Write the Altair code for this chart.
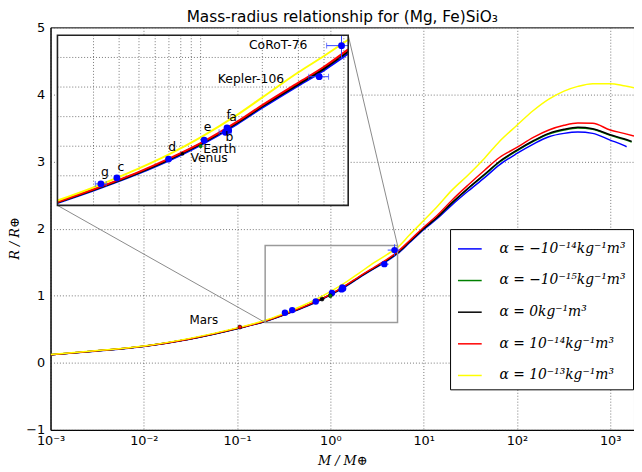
import altair as alt
import numpy as np
import pandas as pd

# ---------------- data ----------------
SERIES = ["α = −10⁻¹⁴kg⁻¹m³", "α = −10⁻¹⁵kg⁻¹m³", "α = 0kg⁻¹m³",
          "α = 10⁻¹⁴kg⁻¹m³", "α = 10⁻¹³kg⁻¹m³"]
COLORS = ["#0000ff", "#008000", "#000000", "#ff0000", "#ffff00"]

MASS = [0.001, 0.003, 0.01, 0.03, 0.1, 0.2, 0.3, 0.5, 0.7, 1.0, 1.5, 2.0, 3.0, 4.0, 5.25,
        7.0, 10, 14, 20, 30, 45, 65, 100, 150, 220, 320, 450, 650, 1000, 1400]

R_BLUE = [0.118, 0.173, 0.243, 0.348, 0.507, 0.616, 0.700, 0.816, 0.903, 1.008,
          1.148, 1.260, 1.410, 1.513, 1.625, 1.785, 1.985, 2.15, 2.35, 2.56,
          2.76, 2.95, 3.12, 3.26, 3.37, 3.42, 3.44, 3.42, 3.32, 3.24]
R_GREEN = [0.120, 0.175, 0.245, 0.350, 0.510, 0.620, 0.705, 0.822, 0.910, 1.015,
           1.157, 1.270, 1.420, 1.525, 1.640, 1.800, 2.000, 2.17, 2.38, 2.60,
           2.80, 2.99, 3.16, 3.30, 3.41, 3.47, 3.50, 3.48, 3.39, 3.33]
R_BLACK = [0.120, 0.175, 0.245, 0.350, 0.510, 0.620, 0.705, 0.822, 0.910, 1.015,
           1.157, 1.270, 1.420, 1.525, 1.640, 1.800, 2.000, 2.17, 2.38, 2.60,
           2.81, 3.00, 3.17, 3.31, 3.42, 3.48, 3.51, 3.49, 3.40, 3.34]
R_RED = [0.121, 0.176, 0.247, 0.352, 0.513, 0.623, 0.709, 0.827, 0.916, 1.021,
         1.164, 1.278, 1.430, 1.537, 1.655, 1.815, 2.020, 2.20, 2.42, 2.65,
         2.87, 3.06, 3.21, 3.36, 3.47, 3.54, 3.575, 3.57, 3.47, 3.42]
R_YELLOW = [0.125, 0.180, 0.250, 0.360, 0.520, 0.633, 0.722, 0.850, 0.945, 1.060,
            1.210, 1.330, 1.500, 1.610, 1.720, 1.900, 2.120, 2.33, 2.57, 2.80,
            3.05, 3.30, 3.54, 3.76, 3.93, 4.05, 4.12, 4.16, 4.16, 4.13]
END_MASS = [1500, 1700, 1700, 1800, 1800]
END_R = [3.22, 3.29, 3.30, 3.38, 4.10]

PL_NAME = ["g", "c", "d", "e", "b", "f", "a", "Kepler-106", "CoRoT-76"]
PL_M = [0.326, 0.39, 0.697, 1.04, 1.32, 1.345, 1.37, 3.79, 4.87]
PL_R = [0.745, 0.785, 0.913, 1.04, 1.094, 1.123, 1.107, 1.47, 1.68]
PL_MERR = [0.02, 0.0, 0.0, 0.0, 0.09, 0.0, 0.0, 0.42, 0.75]
PL_RERR = [0.0, 0.0, 0.0, 0.0, 0.0, 0.0, 0.0, 0.0, 0.085]

SS_NAME = ["Venus", "Earth", "Mars"]
SS_M = [0.815, 1.0, 0.107]
SS_R = [0.949, 1.0, 0.532]
SS_COLOR = ["#000000", "#008000", "#ff0000"]

LBL_TEXT = ["g", "c", "d", "Venus", "Earth", "e", "f", "a", "b", "Kepler-106", "CoRoT-76"]
LBL_M = [0.341, 0.408, 0.727, 1.10, 1.24, 1.08, 1.37, 1.44, 1.38, 1.76, 2.39]
LBL_R = [0.825, 0.859, 0.993, 0.919, 0.982, 1.128, 1.21, 1.197, 1.065, 1.456, 1.683]
MARS_LBL_M, MARS_LBL_R = [0.044], [0.637]

X_TICKS = [1e-3, 1e-2, 1e-1, 1, 10, 100, 1000]
Y_TICKS = [-1, 0, 1, 2, 3, 4, 5]
INSET_GRID_X = [0.3, 0.4, 0.5, 0.6, 0.7, 0.8, 0.9, 1, 2, 3, 4, 5]
INSET_GRID_Y = [0.8, 1.0, 1.2, 1.4, 1.6]
ZOOM_X = [0.2, 5.25]
ZOOM_Y = [0.6, 1.75]

# ---------------- layout ----------------
W, H = 590, 407
XMIN, XMAX = 1e-3, 1800
YMIN, YMAX = -1, 5
IN_L, IN_T, IN_R, IN_B = 7, 8, 301, 180   # inset frame in plot pixels


def px_to_x(p):
    return 10 ** (np.log10(XMIN) + p / W * (np.log10(XMAX) - np.log10(XMIN)))


def px_to_y(p):
    return YMAX - p / H * (YMAX - YMIN)


# ---------------- tables ----------------
rows = []
for s, rs, em, er in zip(SERIES, [R_BLUE, R_GREEN, R_BLACK, R_RED, R_YELLOW], END_MASS, END_R):
    for m, r in zip(MASS, rs):
        rows.append({"series": s, "M": m, "R": r})
    rows.append({"series": s, "M": em, "R": er})
curves = pd.DataFrame(rows)

planets = pd.DataFrame({"name": PL_NAME, "M": PL_M, "R": PL_R, "Me": PL_MERR, "Re": PL_RERR})
xerr = planets[planets.Me > 0].copy()
xerr["lo"] = xerr.M - xerr.Me
xerr["hi"] = xerr.M + xerr.Me
yerr = planets[planets.Re > 0].copy()
yerr["lo"] = yerr.R - yerr.Re
yerr["hi"] = yerr.R + yerr.Re

solar = pd.DataFrame({"name": SS_NAME, "M": SS_M, "R": SS_R, "c": SS_COLOR})
labels = pd.DataFrame({"t": LBL_TEXT, "M": LBL_M, "R": LBL_R})
mars_lbl = pd.DataFrame({"t": ["Mars"], "M": MARS_LBL_M, "R": MARS_LBL_R})
zoom_box = pd.DataFrame({"x0": [ZOOM_X[0]], "x1": [ZOOM_X[1]], "y0": [ZOOM_Y[0]], "y1": [ZOOM_Y[1]]})
connectors = pd.DataFrame({
    "x0": [px_to_x(IN_L), px_to_x(IN_R)], "y0": [px_to_y(IN_B), px_to_y(IN_T)],
    "x1": [ZOOM_X[0], ZOOM_X[1]], "y1": [ZOOM_Y[0], ZOOM_Y[1]]})
gx = pd.DataFrame({"M": INSET_GRID_X, "y0": ZOOM_Y[0], "y1": ZOOM_Y[1]})
gy = pd.DataFrame({"R": INSET_GRID_Y, "x0": ZOOM_X[0], "x1": ZOOM_X[1]})

# ---------------- main scales / axes ----------------
xs = alt.Scale(type="log", domain=[XMIN, XMAX], nice=False)
ys = alt.Scale(domain=[YMIN, YMAX], nice=False, zero=False)
SUP = "['10⁻³','10⁻²','10⁻¹','10⁰','10¹','10²','10³'][round(log(datum.value)/LN10)+3]"
XAXIS = alt.Axis(title="M / M⊕", titleFont="DejaVu Serif", titleFontStyle="italic",
                 titleFontWeight="normal", titleFontSize=13, titleColor="black",
                 titleY=31, titleBaseline="middle",
                 values=X_TICKS, labelExpr=SUP, labelFont="DejaVu Sans", labelFontSize=13,
                 labelColor="black", labelPadding=5, ticks=False, labelFlush=False,
                 labelOverlap=False, domainColor="black", grid=True, gridColor="#555",
                 gridDash=[1, 2], gridWidth=0.8)
YAXIS = alt.Axis(title="R / R⊕", titleFont="DejaVu Serif", titleFontStyle="italic",
                 titleFontWeight="normal", titleFontSize=13, titleColor="black",
                 titleX=-36, titleY=213, titleAngle=270, titleBaseline="middle",
                 values=Y_TICKS, labelExpr="replace(datum.label, '-', '−')",
                 labelFont="DejaVu Sans", labelFontSize=13, labelColor="black",
                 labelPadding=6, ticks=False, labelFlush=False, domainColor="black",
                 grid=True, gridColor="#555", gridDash=[1, 2], gridWidth=0.8)


def mx(f):
    return alt.X(f, type="quantitative", scale=xs, axis=XAXIS)


def my(f):
    return alt.Y(f, type="quantitative", scale=ys, axis=YAXIS)


LEGEND = alt.Legend(title=None, orient="none", legendX=404, legendY=204,
                    symbolType="stroke", symbolSize=576, symbolStrokeWidth=1.5,
                    labelFont="DejaVu Serif", labelFontStyle="italic", labelFontSize=14,
                    labelColor="black", labelOffset=17, labelLimit=400,
                    padding=7, rowPadding=12, strokeColor="black", fillColor="white",
                    cornerRadius=0)

main_curves = alt.Chart(curves).mark_line(strokeWidth=1.5, interpolate="monotone", clip=True).encode(
    x=mx("M"), y=my("R"),
    color=alt.Color("series:N", scale=alt.Scale(domain=SERIES, range=COLORS), sort=SERIES, legend=LEGEND),
    detail="series:N")

main_box = alt.Chart(zoom_box).mark_rect(filled=False, stroke="#9a9a9a", strokeWidth=1.5).encode(
    x=mx("x0"), x2="x1", y=my("y0"), y2="y1")
main_conn = alt.Chart(connectors).mark_rule(color="#8a8a8a", strokeWidth=1).encode(
    x=mx("x0"), x2="x1", y=my("y0"), y2="y1")
main_xerr = alt.Chart(xerr).mark_rule(color="#3344ff", strokeWidth=1).encode(
    x=mx("lo"), x2="hi", y=my("R"))
main_yerr = alt.Chart(yerr).mark_rule(color="#3344ff", strokeWidth=1).encode(
    x=mx("M"), y=my("lo"), y2="hi")
main_pts = alt.Chart(planets).mark_circle(color="#0000ff", size=42, opacity=1).encode(
    x=mx("M"), y=my("R"))
main_ss = alt.Chart(solar).mark_point(filled=True, size=16, opacity=1, stroke="black", strokeWidth=0.6).encode(
    x=mx("M"), y=my("R"), fill=alt.Fill("c:N", scale=None))
main_txt = alt.Chart(mars_lbl).mark_text(font="DejaVu Sans", fontSize=12, color="black").encode(
    x=mx("M"), y=my("R"), text="t:N")

main = alt.layer(main_curves, main_box, main_conn, main_xerr, main_yerr, main_pts, main_ss, main_txt)

# ---------------- inset ----------------
xi = alt.Scale(type="log", domain=ZOOM_X, range=[IN_L, IN_R], nice=False)
yi = alt.Scale(domain=ZOOM_Y, range=[IN_B, IN_T], nice=False, zero=False)


def ix(f):
    return alt.X(f, type="quantitative", scale=xi, axis=None)


def iy(f):
    return alt.Y(f, type="quantitative", scale=yi, axis=None)


in_bg = alt.Chart(zoom_box).mark_rect(fill="white", stroke=None).encode(
    x=ix("x0"), x2="x1", y=iy("y0"), y2="y1")
in_gx = alt.Chart(gx).mark_rule(color="#555", strokeDash=[1, 2], strokeWidth=0.8).encode(
    x=ix("M"), y=iy("y0"), y2="y1")
in_gy = alt.Chart(gy).mark_rule(color="#555", strokeDash=[1, 2], strokeWidth=0.8).encode(
    x=ix("x0"), x2="x1", y=iy("R"))
in_curves = alt.Chart(curves).transform_filter(
    (alt.datum.M >= ZOOM_X[0]) & (alt.datum.M <= ZOOM_X[1])
).mark_line(strokeWidth=2, interpolate="monotone").encode(
    x=ix("M"), y=iy("R"),
    color=alt.Color("series:N", scale=alt.Scale(domain=SERIES, range=COLORS), legend=None),
    detail="series:N")
in_xerr = alt.Chart(xerr).transform_calculate(
    hic=f"min(datum.hi, {ZOOM_X[1]})").mark_rule(color="#3344ff", strokeWidth=1).encode(
    x=ix("lo"), x2="hic:Q", y=iy("R"))
in_xcap = alt.Chart(xerr).transform_fold(["lo", "hi"], as_=["k", "v"]).transform_filter(
    alt.datum.v <= ZOOM_X[1]).mark_tick(color="#3344ff", orient="vertical", size=6, thickness=1).encode(
    x=ix("v"), y=iy("R"))
in_yerr = alt.Chart(yerr).transform_calculate(
    hic=f"min(datum.hi, {ZOOM_Y[1]})").mark_rule(color="#3344ff", strokeWidth=1).encode(
    x=ix("M"), y=iy("lo"), y2="hic:Q")
in_ycap = alt.Chart(yerr).transform_fold(["lo", "hi"], as_=["k", "v"]).transform_filter(
    alt.datum.v <= ZOOM_Y[1]).mark_tick(color="#3344ff", orient="horizontal", size=6, thickness=1).encode(
    x=ix("M"), y=iy("v"))
in_pts = alt.Chart(planets).mark_circle(color="#0000ff", size=48, opacity=1).encode(
    x=ix("M"), y=iy("R"))
in_ss = alt.Chart(solar).transform_filter(alt.datum.M >= ZOOM_X[0]).mark_circle(size=14, opacity=1).encode(
    x=ix("M"), y=iy("R"), color=alt.Color("c:N", scale=None))
in_txt = alt.Chart(labels).mark_text(font="DejaVu Sans", fontSize=12.5, color="black").encode(
    x=ix("M"), y=iy("R"), text="t:N")
in_frame = alt.Chart(zoom_box).mark_rect(filled=False, stroke="#222", strokeWidth=1.6).encode(
    x=ix("x0"), x2="x1", y=iy("y0"), y2="y1")

inset = alt.layer(in_bg, in_gx, in_gy, in_curves, in_xerr, in_xcap, in_yerr, in_ycap,
                  in_pts, in_ss, in_txt, in_frame)

chart = alt.layer(main, inset).resolve_scale(
    x="independent", y="independent", color="independent"
).properties(
    width=W, height=H,
    title=alt.TitleParams("Mass-radius relationship for (Mg, Fe)SiO₃", font="DejaVu Sans",
                          fontSize=15.5, fontWeight="normal", color="black", anchor="middle",
                          frame="group", offset=1, baseline="top", dy=5)
).configure(
    background="white",
    padding={"left": 43, "top": 17, "right": 0, "bottom": 38},
    autosize=alt.AutoSizeParams(type="none"),
).configure_view(stroke="black", strokeWidth=1)

chart.save("out.html", embed_options={"renderer": "svg", "actions": False})
